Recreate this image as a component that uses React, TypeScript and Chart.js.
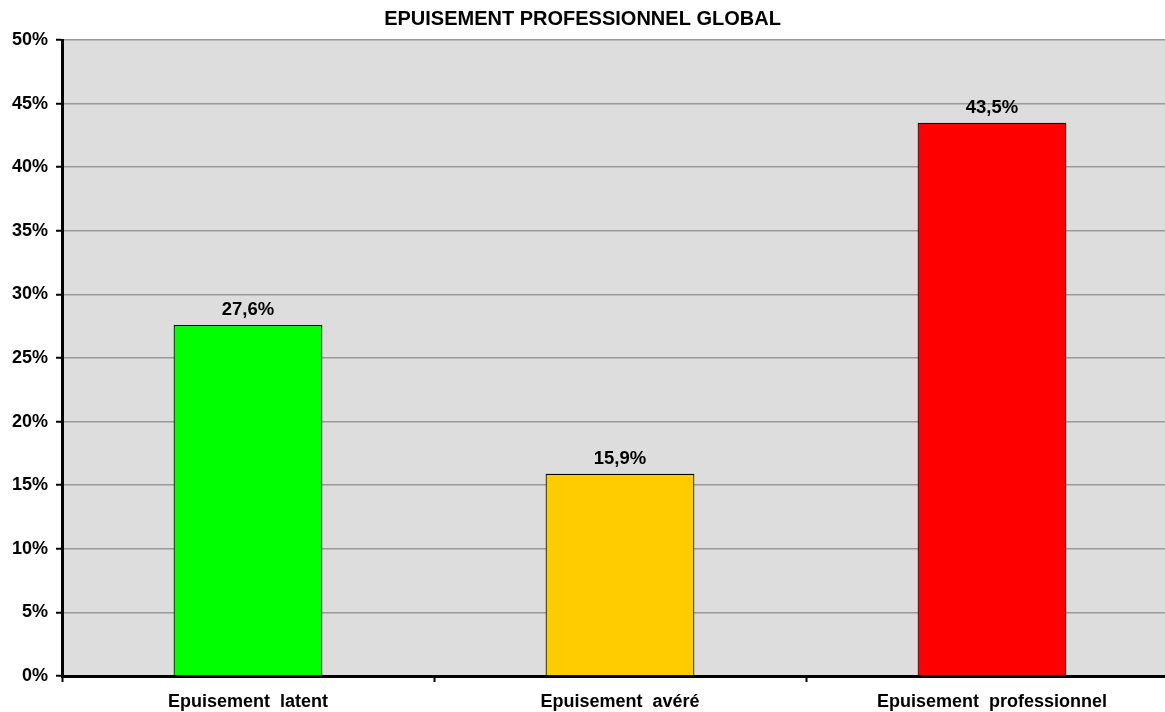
import React, { useEffect, useRef } from "react";
import { Chart, registerables } from "chart.js";

Chart.register(...registerables);

const TITLE = "EPUISEMENT PROFESSIONNEL GLOBAL";
const categories = ["Epuisement  latent", "Epuisement  avéré", "Epuisement  professionnel"];
const values = [27.6, 15.9, 43.5];
const barColors = ["#00FF00", "#FFCC00", "#FF0000"];
const yMin = 0;
const yMax = 50;
const yStep = 5;

const FONT_FAMILY = "'Liberation Sans', Arial, sans-serif";
// the plot area runs past the right edge of the picture
const RIGHT_OVERFLOW = 13;

const extendPlotRight = {
  id: "extendPlotRight",
  afterLayout(chart: any) {
    const x = chart.scales.x;
    chart.chartArea.right += RIGHT_OVERFLOW;
    chart.chartArea.width = chart.chartArea.right - chart.chartArea.left;
    x.right += RIGHT_OVERFLOW;
    x.width = x.right - x.left;
    x.configure();
    const y = chart.scales.y;
    y.configure();
  },
};

const plotBackground = {
  id: "plotBackground",
  beforeDraw(chart: any) {
    const { ctx, chartArea } = chart;
    ctx.save();
    ctx.fillStyle = "#DDDDDD";
    ctx.fillRect(chartArea.left, chartArea.top, chartArea.right - chartArea.left, chartArea.bottom - chartArea.top);
    ctx.restore();
  },
};

const valueLabels = {
  id: "valueLabels",
  afterDatasetsDraw(chart: any) {
    const { ctx } = chart;
    const meta = chart.getDatasetMeta(0);
    ctx.save();
    ctx.font = `bold 18.5px ${FONT_FAMILY}`;
    ctx.fillStyle = "#000";
    ctx.textAlign = "center";
    ctx.textBaseline = "alphabetic";
    meta.data.forEach((bar: any, i: number) => {
      const v = values[i];
      const txt = v.toFixed(1).replace(".", ",") + "%";
      ctx.fillText(txt, bar.x, bar.y - 10);
    });
    ctx.restore();
  },
};

export default function App() {
  const canvasRef = useRef<HTMLCanvasElement | null>(null);

  useEffect(() => {
    if (!canvasRef.current) return;
    const chart = new Chart(canvasRef.current, {
      type: "bar",
      data: {
        labels: categories,
        datasets: [
          {
            data: values,
            backgroundColor: barColors,
            borderColor: "#000",
            borderWidth: 1.2,
            barPercentage: 0.4,
            categoryPercentage: 1,
          },
        ],
      },
      options: {
        animation: false,
        responsive: false,
        devicePixelRatio: 1,
        layout: { padding: { left: 0, right: 0, top: 0, bottom: 0 } },
        plugins: {
          legend: { display: false },
          tooltip: { enabled: false },
          title: {
            display: true,
            text: TITLE,
            color: "#000",
            font: { family: FONT_FAMILY, size: 20, weight: "bold" },
            padding: { top: 7, bottom: 9 },
          },
        },
        scales: {
          x: {
            offset: true,
            afterFit(scale: any) {
              scale.height = 36;
            },
            border: { display: true, color: "#000", width: 3 },
            grid: {
              display: true,
              offset: true,
              drawOnChartArea: false,
              drawTicks: true,
              tickColor: "#000",
              tickWidth: 2,
              tickLength: 6,
            },
            ticks: {
              color: "#000",
              font: { family: FONT_FAMILY, size: 18, weight: "bold" },
              padding: 9,
              maxRotation: 0,
              autoSkip: false,
            },
          },
          y: {
            min: yMin,
            max: yMax,
            afterFit(scale: any) {
              scale.width = 62;
            },
            border: { display: true, color: "#000", width: 3 },
            grid: {
              color: "#999999",
              lineWidth: 1.5,
              drawTicks: true,
              tickColor: "#000",
              tickWidth: 2,
              tickLength: 6,
            },
            ticks: {
              stepSize: yStep,
              color: "#000",
              font: { family: FONT_FAMILY, size: 18, weight: "bold" },
              padding: 8,
              callback: (v: any) => `${v}%`,
            },
          },
        },
      },
      plugins: [extendPlotRight, plotBackground, valueLabels],
    });
    return () => chart.destroy();
  }, []);

  return (
    <div style={{ position: "absolute", left: 0, top: 0, width: 1165, height: 712, overflow: "hidden", background: "#fff" }}>
      <canvas ref={canvasRef} width={1165} height={712} style={{ width: 1165, height: 712, display: "block" }} />
    </div>
  );
}
